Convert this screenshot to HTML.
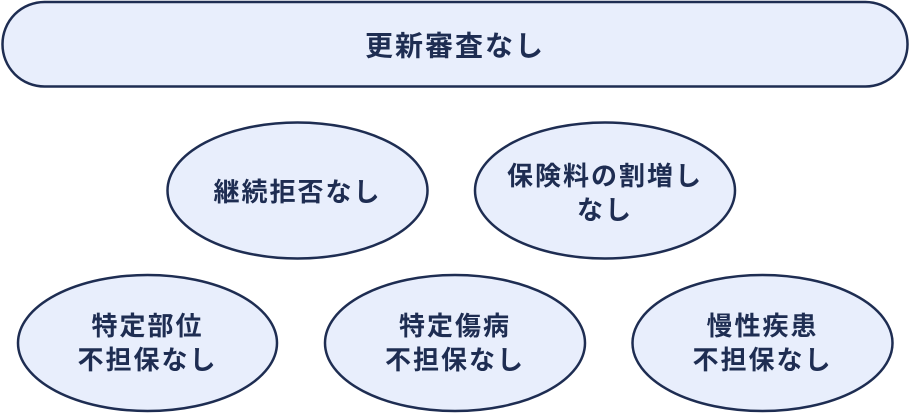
<!DOCTYPE html>
<html><head><meta charset="utf-8"><style>
body{margin:0;background:#fff;}
svg text{font-family:"Liberation Sans","Noto Sans CJK JP",sans-serif;font-weight:bold;fill:#1e2d52;text-anchor:middle;dominant-baseline:central;}
</style></head><body>
<svg width="911" height="414" viewBox="0 0 911 414" xmlns="http://www.w3.org/2000/svg">
<g fill="#e8eefc" stroke="#1e2d52" stroke-width="2.5">
<rect x="2.5" y="2" width="905" height="84.5" rx="42" ry="42"/>
<ellipse cx="297.5" cy="190.5" rx="130" ry="68"/>
<ellipse cx="605" cy="190.5" rx="130" ry="68"/>
<ellipse cx="147.5" cy="343" rx="129.5" ry="68"/>
<ellipse cx="455" cy="343" rx="130" ry="68"/>
<ellipse cx="762.5" cy="343" rx="130" ry="68"/>
</g>
<text x="455" y="46" font-size="28" letter-spacing="2">更新審査なし</text>
<text x="297.5" y="192" font-size="26" letter-spacing="2">継続拒否なし</text>
<text x="605" y="176" font-size="26" letter-spacing="2">保険料の割増し</text>
<text x="605" y="210" font-size="26" letter-spacing="2">なし</text>
<text x="147.5" y="326" font-size="26" letter-spacing="2">特定部位</text>
<text x="147.5" y="360" font-size="26" letter-spacing="2">不担保なし</text>
<text x="455" y="326" font-size="26" letter-spacing="2">特定傷病</text>
<text x="455" y="360" font-size="26" letter-spacing="2">不担保なし</text>
<text x="762.5" y="326" font-size="26" letter-spacing="2">慢性疾患</text>
<text x="762.5" y="360" font-size="26" letter-spacing="2">不担保なし</text>
</svg>
</body></html>
